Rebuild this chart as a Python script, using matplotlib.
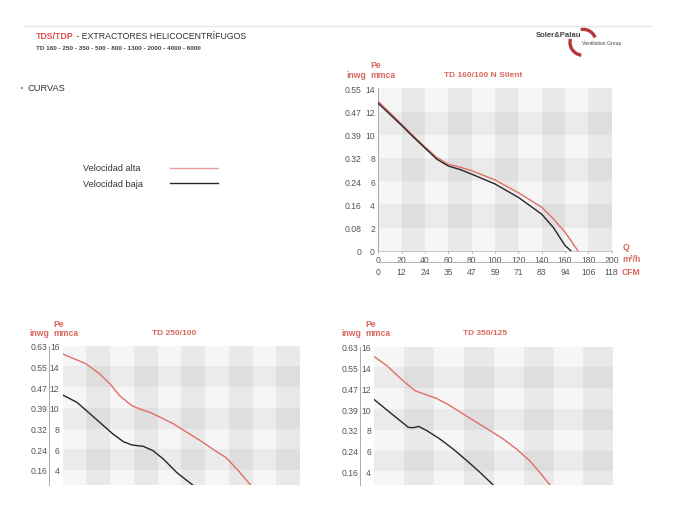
import numpy as np
import matplotlib.pyplot as plt
from matplotlib.patches import Arc
from matplotlib.transforms import offset_copy

SANS = ['Liberation Sans', 'DejaVu Sans']

RED = '#de6f66'
BLACK = '#262626'
LABEL_RED = '#d8675e'
GREY = '#555555'

# TD 160/100 N Silent  (Q m3/h, Pe mmca)
q160_alta = [0, 10, 20, 30, 40, 50, 60, 70, 80, 100, 120, 140, 150, 160, 171]
p160_alta = [12.85, 11.9, 10.9, 9.9, 8.95, 8.05, 7.45, 7.2, 6.9, 6.1, 5.0, 3.75, 2.75, 1.6, 0]
q160_baja = [0, 10, 20, 30, 40, 50, 60, 70, 80, 100, 120, 140, 150, 160, 165]
p160_baja = [12.7, 11.75, 10.8, 9.8, 8.85, 7.9, 7.3, 7.0, 6.6, 5.75, 4.6, 3.15, 2.0, 0.45, 0]

# TD 250/100
q250_alta = [0, 25, 39, 50, 60, 73, 81, 92, 103, 117, 131, 145, 159, 172, 185, 198]
p250_alta = [15.2, 14.23, 13.27, 12.3, 11.17, 10.2, 9.9, 9.56, 9.08, 8.44, 7.63, 6.83, 5.96, 5.2, 3.94, 2.55]
q250_baja = [0, 15, 25, 39, 53, 64, 73, 85, 95, 106, 120, 131, 137]
p250_baja = [11.24, 10.53, 9.73, 8.6, 7.47, 6.73, 6.41, 6.28, 5.87, 5.06, 3.77, 2.97, 2.55]

# TD 350/125
q350_alta = [0, 21, 48, 68, 88, 104, 127, 149, 171, 194, 216, 238, 260, 277, 294]
p350_alta = [15.04, 14.17, 12.73, 11.77, 11.35, 11.03, 10.32, 9.52, 8.72, 7.92, 7.11, 6.15, 5.03, 3.9, 2.69]
q350_baja = [0, 26, 57, 65, 74, 88, 110, 132, 155, 177, 199]
p350_baja = [10.9, 9.68, 8.24, 8.2, 8.33, 7.92, 7.11, 6.15, 5.03, 3.9, 2.69]

x160_ticks = [0, 20, 40, 60, 80, 100, 120, 140, 160, 180, 200]
cfm160_labels = ['0', '12', '24', '35', '47', '59', '71', '83', '94', '106', '118']
mmca160_ticks = [0, 2, 4, 6, 8, 10, 12, 14]
inwg160_labels = ['0', '0.08', '0.16', '0.24', '0.32', '0.39', '0.47', '0.55']
mmca_low_ticks = [4, 6, 8, 10, 12, 14, 16]
inwg_low_labels = ['0.16', '0.24', '0.32', '0.39', '0.47', '0.55', '0.63']

TICK_FS = 6.2
LAB_FS = 6.2

W, H = 684, 510
fig = plt.figure(figsize=(W / 100, H / 100), dpi=100)
bg = fig.add_axes([0, 0, 1, 1])
bg.set_xlim(0, W)
bg.set_ylim(H, 0)
bg.axis('off')


def pt(px):
    return px * 0.72


def make_chart(l, t, r, b, xmax, ncols, ylo, yhi):
    ax = fig.add_axes([l / W, 1 - b / H, (r - l) / W, (b - t) / H])
    ax.set_xlim(0, xmax)
    ax.set_ylim(ylo, yhi)
    ax.set_facecolor('#f6f6f6')
    step = xmax / ncols
    for i in range(1, ncols, 2):
        ax.axvspan(i * step, (i + 1) * step, color='black', alpha=0.05, lw=0)
    for k, y in enumerate(np.arange(yhi, ylo - 2, -2)):
        if k % 2:
            ax.axhspan(y - 2, y, color='black', alpha=0.045, lw=0)
    for s in ax.spines.values():
        s.set_visible(False)
    ax.set_yticks([])
    return ax


def y_labels(ax, ticks, inwg, off_mmca, off_inwg):
    # both scales as text, so they share one size
    for labels, off in ((ticks, off_mmca), (inwg, off_inwg)):
        trans = offset_copy(ax.get_yaxis_transform(), fig=fig, x=-pt(off), y=0, units='points')
        for v, lab in zip(ticks, labels):
            ax.text(0, v, str(lab), transform=trans, ha='right', va='center_baseline',
                    fontsize=TICK_FS, color=GREY, family=SANS)


def head(px, py, title, tx):
    bg.text(px, py - 9.5, 'Pe', fontsize=LAB_FS, fontweight='bold', color=LABEL_RED,
            family=SANS, ha='left', va='center')
    bg.text(px - 24, py, 'inwg', fontsize=LAB_FS, fontweight='bold', color=LABEL_RED,
            family=SANS, ha='left', va='center')
    bg.text(px, py, 'mmca', fontsize=LAB_FS, fontweight='bold', color=LABEL_RED,
            family=SANS, ha='left', va='center')
    bg.text(tx, py, title, fontsize=6.0, fontweight='bold', color=LABEL_RED,
            family=SANS, ha='left', va='center')


# header
bg.plot([23, 652], [27, 27], color='#e8e8e8', lw=1)
t1 = bg.text(36, 36.5, 'TDS/TDP', fontsize=6.3, color='#d9534f', family=SANS,
             fontweight='bold', ha='left', va='center')
bg.annotate(' - EXTRACTORES HELICOCENTRÍFUGOS', xy=(1, 0.5), xycoords=t1, fontsize=6.3,
            color='#333333', family=SANS, ha='left', va='center')
bg.text(36, 49, 'TD 160 - 250 - 350 - 500 - 800 - 1300 - 2000 - 4000 - 6000', fontsize=4.6,
        color='#444444', family=SANS, fontweight='bold', ha='left', va='center')
bg.text(536, 35.7, 'Soler&Palau', fontsize=5.6, color='#444444', family=SANS,
        fontweight='bold', ha='left', va='center')
bg.add_patch(Arc((583, 43.3), 26, 26, theta1=-100, theta2=-22, color='#b5383a', lw=2.4))
bg.add_patch(Arc((583, 43.3), 26, 26, theta1=-263, theta2=-165, color='#b5383a', lw=2.4))
bg.text(582, 44, 'Ventilation Group', fontsize=3.6, color='#444444', family=SANS,
        ha='left', va='center')
bg.text(19.5, 88.7, '·', fontsize=9, color='#d9534f', family=SANS, fontweight='bold',
        ha='left', va='center')
bg.text(28, 88.7, 'CURVAS', fontsize=6.7, color='#333333', family=SANS, ha='left', va='center')

# legend
bg.text(82.7, 169, 'Velocidad alta', fontsize=6.6, color='#333333', family=SANS,
        ha='left', va='center')
bg.text(82.7, 184.3, 'Velocidad baja', fontsize=6.6, color='#333333', family=SANS,
        ha='left', va='center')
bg.plot([170, 218], [169, 169], color='#e8a0a0', lw=1.0)
bg.plot([170, 218], [184.3, 184.3], color=BLACK, lw=1.0)

# TD 160/100 N Silent
ax1 = make_chart(378.3, 89.3, 611.7, 251.7, 200, 10, 0, 14)
ax1.plot(q160_alta, p160_alta, color=RED, lw=1.0, zorder=3)
ax1.plot(q160_baja, p160_baja, color=BLACK, lw=1.0, zorder=3)
ax1.spines['left'].set_visible(True)
ax1.spines['left'].set_color('#aaaaaa')
ax1.spines['left'].set_linewidth(0.7)
ax1.spines['bottom'].set_visible(True)
ax1.spines['bottom'].set_color('#bbbbbb')
ax1.spines['bottom'].set_linewidth(0.6)
y_labels(ax1, mmca160_ticks, inwg160_labels, 3.3, 16.6)
ax1.tick_params(axis='x', length=pt(2), width=0.6, color='#999999', pad=pt(2.2),
                labelsize=TICK_FS, labelcolor=GREY)
ax1.set_xticks(x160_ticks, labels=[str(v) for v in x160_ticks], fontfamily=SANS,
               fontsize=TICK_FS)
trans = offset_copy(ax1.get_xaxis_transform(), fig=fig, x=0, y=-pt(20.6), units='points')
for v, lab in zip(x160_ticks, cfm160_labels):
    ax1.text(v, 0, lab, transform=trans, ha='center', va='center', fontsize=TICK_FS,
             color=GREY, family=SANS)
ax1.plot([0, 1], [-11.6 / 162.4] * 2, transform=ax1.transAxes, clip_on=False,
         color='#aaaaaa', lw=0.6)
head(370, 75.5, 'TD 160/100 N Silent', 444)
bg.text(622.7, 247.7, 'Q', fontsize=LAB_FS, fontweight='bold', color=LABEL_RED, family=SANS,
        ha='left', va='center')
bg.text(622, 259.3, 'm³/h', fontsize=LAB_FS, fontweight='bold', color=LABEL_RED, family=SANS,
        ha='left', va='center')
bg.text(621.7, 272.3, 'CFM', fontsize=LAB_FS, fontweight='bold', color=LABEL_RED, family=SANS,
        ha='left', va='center')

# TD 250/100
ax2 = make_chart(62.7, 346.7, 300, 486, 250, 10, 2.55, 16)
ax2.plot(q250_alta, p250_alta, color=RED, lw=1.0, zorder=3)
ax2.plot(q250_baja, p250_baja, color=BLACK, lw=1.0, zorder=3)
ax2.set_xticks([])
y_labels(ax2, mmca_low_ticks, inwg_low_labels, 3.3, 15.2)
ax2.plot([-13.8 / 237.3] * 2, [0, 1], transform=ax2.transAxes, clip_on=False,
         color='#aaaaaa', lw=0.7)
head(53, 334, 'TD 250/100', 151.7)

# TD 350/125
ax3 = make_chart(374.3, 347.7, 613.3, 486, 400, 8, 2.69, 16)
ax3.plot(q350_alta, p350_alta, color=RED, lw=1.0, zorder=3)
ax3.plot(q350_baja, p350_baja, color=BLACK, lw=1.0, zorder=3)
ax3.set_xticks([])
y_labels(ax3, mmca_low_ticks, inwg_low_labels, 3.3, 15.6)
ax3.plot([-14 / 239] * 2, [0, 1], transform=ax3.transAxes, clip_on=False,
         color='#aaaaaa', lw=0.7)
head(365, 334, 'TD 350/125', 463.3)

fig.savefig('out.png', dpi=100)
